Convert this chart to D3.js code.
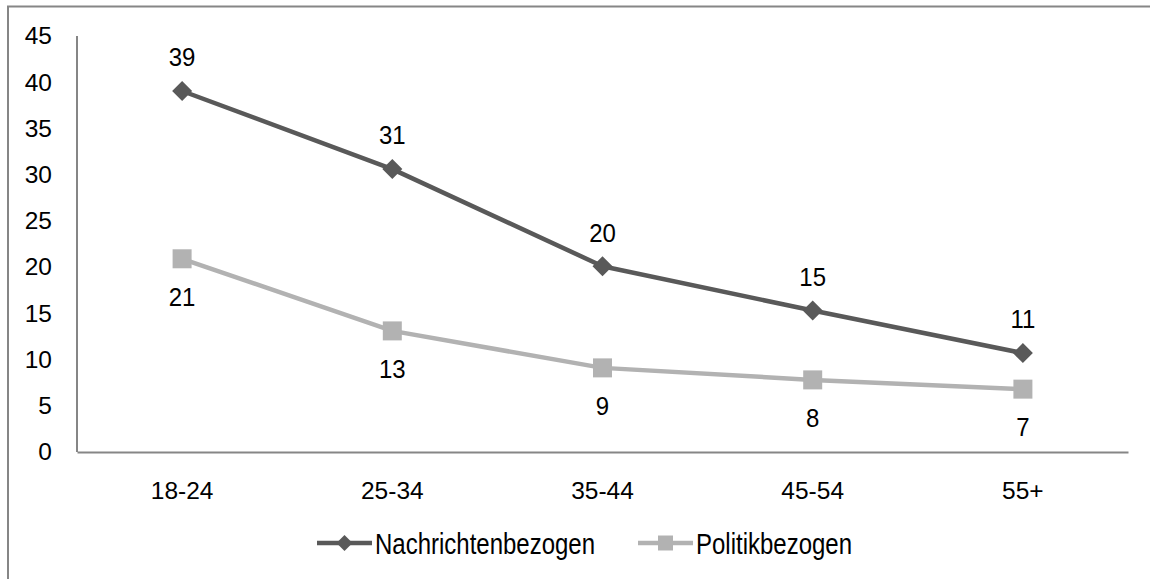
<!DOCTYPE html>
<html><head><meta charset="utf-8">
<script src="https://cdn.jsdelivr.net/npm/d3@7"></script>
<style>html,body{margin:0;padding:0;background:#fff;}svg{display:block;}</style>
</head><body>
<svg id="chart" width="1150" height="579"></svg>
<script>
const categories = ["18-24","25-34","35-44","45-54","55+"];
const nachrichten = [39.05, 30.6, 20.1, 15.3, 10.7];
const politik = [20.9, 13.1, 9.1, 7.8, 6.8];
const nachrichtenLabels = ["39","31","20","15","11"];
const politikLabels = ["21","13","9","8","7"];
const yTicks = [0,5,10,15,20,25,30,35,40,45];
const seriesNames = ["Nachrichtenbezogen","Politikbezogen"];

const FONT = "'Liberation Sans', Arial, sans-serif";
const DARK = "#595959", LIGHT = "#b2b2b2", AXIS = "#868686";
const svg = d3.select("#chart");

svg.append("rect").attr("x",8).attr("y",6.5).attr("width",1300).attr("height",800)
  .attr("fill","none").attr("stroke",AXIS).attr("stroke-width",2);

const x = d3.scaleBand().domain(categories).range([77,1128]).padding(0);
const cx = c => x(c) + x.bandwidth()/2;
const y = d3.scaleLinear().domain([0,45]).range([452,36]);

const yAxis = svg.append("g").attr("transform","translate(77,0)")
  .call(d3.axisLeft(y).tickValues(yTicks).tickSize(0).tickPadding(25));
const xAxis = svg.append("g").attr("transform","translate(0,452)")
  .call(d3.axisBottom(x).tickSize(0).tickPadding(30));
[yAxis,xAxis].forEach(a=>{
  a.select(".domain").attr("stroke",AXIS).attr("stroke-width",2);
  a.selectAll("text").attr("font-family",FONT).attr("font-size",24.5).attr("fill","#000");
});
yAxis.select(".domain").attr("d","M0,36V452");

const diamond = s => `M0,${-s/2}L${s/2},0L0,${s/2}L${-s/2},0Z`;
const square = s => `M${-s/2},${-s/2}h${s}v${s}h${-s}Z`;

const line = d3.line().x((d,i)=>cx(categories[i])).y(d=>y(d));

function drawSeries(vals, labels, color, shape, size, dy){
  svg.append("path").datum(vals).attr("d",line).attr("fill","none")
    .attr("stroke",color).attr("stroke-width",4.5).attr("stroke-linejoin","round");
  svg.append("g").selectAll("path").data(vals).join("path")
    .attr("transform",(d,i)=>`translate(${cx(categories[i])},${y(d)})`)
    .attr("d",shape(size)).attr("fill",color);
  svg.append("g").selectAll("text").data(vals).join("text")
    .attr("transform",(d,i)=>`translate(${cx(categories[i])},${y(d)+dy}) scale(1,1.08)`)
    .attr("text-anchor","middle").attr("dominant-baseline","central")
    .attr("font-family",FONT).attr("font-size",24).attr("fill","#000")
    .text((d,i)=>labels[i]);
}
drawSeries(politik, politikLabels, LIGHT, square, 19, 38);
drawSeries(nachrichten, nachrichtenLabels, DARK, diamond, 20, -34);

// legend
const legend = [
  {name: seriesNames[0], color: DARK, shape: diamond, size: 16, x0: 317},
  {name: seriesNames[1], color: LIGHT, shape: square, size: 15, x0: 638}
];
const ly = 543;
legend.forEach(l=>{
  svg.append("line").attr("x1",l.x0).attr("x2",l.x0+55).attr("y1",ly).attr("y2",ly)
    .attr("stroke",l.color).attr("stroke-width",4.5);
  svg.append("path").attr("transform",`translate(${l.x0+27.5},${ly})`).attr("d",l.shape(l.size)).attr("fill",l.color);
  svg.append("text").attr("transform",`translate(${l.x0+58},${ly}) scale(1,1.26)`)
    .attr("dominant-baseline","central")
    .attr("font-family",FONT).attr("font-size",24).attr("fill","#000").text(l.name);
});
</script>
</body></html>
